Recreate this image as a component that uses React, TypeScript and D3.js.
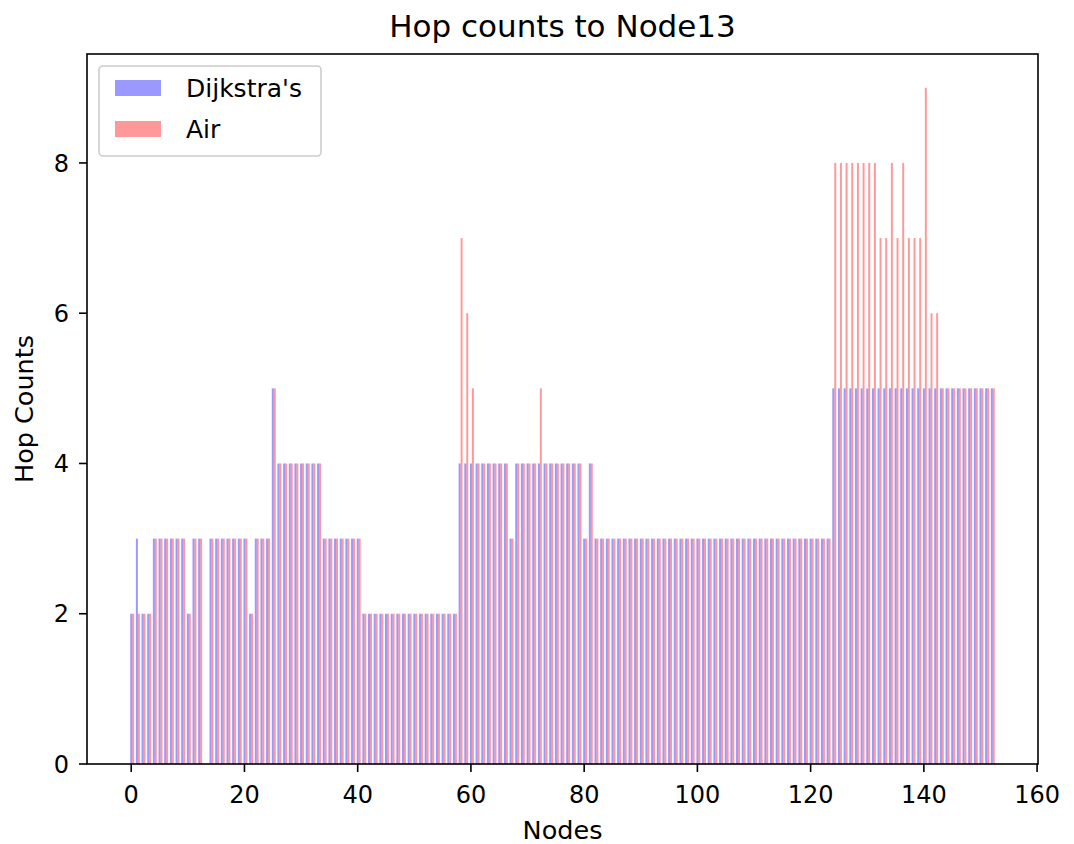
import React from "react";
import * as d3 from "d3";

const title = "Hop counts to Node13";
const xLabel = "Nodes";
const yLabel = "Hop Counts";
const seriesNames = ["Dijkstra's", "Air"];

// hop counts per node (node index 0..152)
const dijkstra = [
  2, 3, 2, 2, 3, 3, 3, 3, 3, 3,
  2, 3, 3, 0, 3, 3, 3, 3, 3, 3,
  3, 2, 3, 3, 3, 5, 4, 4, 4, 4,
  4, 4, 4, 4, 3, 3, 3, 3, 3, 3,
  3, 2, 2, 2, 2, 2, 2, 2, 2, 2,
  2, 2, 2, 2, 2, 2, 2, 2, 4, 4,
  4, 4, 4, 4, 4, 4, 4, 3, 4, 4,
  4, 4, 4, 4, 4, 4, 4, 4, 4, 4,
  3, 4, 3, 3, 3, 3, 3, 3, 3, 3,
  3, 3, 3, 3, 3, 3, 3, 3, 3, 3,
  3, 3, 3, 3, 3, 3, 3, 3, 3, 3,
  3, 3, 3, 3, 3, 3, 3, 3, 3, 3,
  3, 3, 3, 3, 5, 5, 5, 5, 5, 5,
  5, 5, 5, 5, 5, 5, 5, 5, 5, 5,
  5, 5, 5, 5, 5, 5, 5, 5, 5, 5,
  5, 5, 5,
];

const air = [
  2, 2, 2, 2, 3, 3, 3, 3, 3, 3,
  2, 3, 3, 0, 3, 3, 3, 3, 3, 3,
  3, 2, 3, 3, 3, 5, 4, 4, 4, 4,
  4, 4, 4, 4, 3, 3, 3, 3, 3, 3,
  3, 2, 2, 2, 2, 2, 2, 2, 2, 2,
  2, 2, 2, 2, 2, 2, 2, 2, 7, 6,
  5, 4, 4, 4, 4, 4, 4, 3, 4, 4,
  4, 4, 5, 4, 4, 4, 4, 4, 4, 4,
  3, 4, 3, 3, 3, 3, 3, 3, 3, 3,
  3, 3, 3, 3, 3, 3, 3, 3, 3, 3,
  3, 3, 3, 3, 3, 3, 3, 3, 3, 3,
  3, 3, 3, 3, 3, 3, 3, 3, 3, 3,
  3, 3, 3, 3, 8, 8, 8, 8, 8, 8,
  8, 8, 7, 7, 8, 7, 8, 7, 7, 7,
  9, 6, 6, 5, 5, 5, 5, 5, 5, 5,
  5, 5, 5,
];

const xTicks = [0, 20, 40, 60, 80, 100, 120, 140, 160];
const yTicks = [0, 2, 4, 6, 8];

const W = 1074;
const H = 844;
const left = 87;
const right = 1038;
const top = 54;
const bottom = 764;
const barW = 0.35;
const FONT = "DejaVu Sans, sans-serif";

export default function App() {
  const nodes = d3.range(dijkstra.length);
  const x = d3.scaleLinear().domain([-7.81, 160.16]).range([left, right]);
  const y = d3.scaleLinear().domain([0, 9.45]).range([bottom, top]);
  const bw = x(barW) - x(0);
  const blue = "#0000ff";
  const red = "#ff0000";

  return (
    <svg
      width={W}
      height={H}
      style={{ position: "absolute", left: 0, top: 0, background: "#fff" }}
      fontFamily={FONT}
    >
      <rect x={0} y={0} width={W} height={H} fill="#fff" />
      <g>
        {nodes.map((i) => (
          <rect
            key={"d" + i}
            x={x(i - barW / 2)}
            y={y(dijkstra[i])}
            width={bw}
            height={y(0) - y(dijkstra[i])}
            fill={blue}
            fillOpacity={0.4}
          />
        ))}
        {nodes.map((i) => (
          <rect
            key={"a" + i}
            x={x(i + barW / 2)}
            y={y(air[i])}
            width={bw}
            height={y(0) - y(air[i])}
            fill={red}
            fillOpacity={0.4}
          />
        ))}
      </g>
      {/* spines */}
      <rect
        x={left}
        y={top}
        width={right - left}
        height={bottom - top}
        fill="none"
        stroke="#000"
        strokeWidth={1.6}
      />
      {/* x ticks */}
      {xTicks.map((t) => (
        <g key={"xt" + t}>
          <line x1={x(t)} x2={x(t)} y1={bottom} y2={bottom + 8} stroke="#000" strokeWidth={1.6} />
          <text x={x(t)} y={803} textAnchor="middle" fontSize={24} fill="#000">
            {t}
          </text>
        </g>
      ))}
      {/* y ticks */}
      {yTicks.map((t) => (
        <g key={"yt" + t}>
          <line x1={left - 8} x2={left} y1={y(t)} y2={y(t)} stroke="#000" strokeWidth={1.6} />
          <text x={69} y={y(t)} dy="0.36em" textAnchor="end" fontSize={24} fill="#000">
            {t}
          </text>
        </g>
      ))}
      <text x={(left + right) / 2} y={839} textAnchor="middle" fontSize={25.5} fill="#000">
        {xLabel}
      </text>
      <text
        transform={`translate(33, ${(top + bottom) / 2}) rotate(-90)`}
        textAnchor="middle"
        fontSize={25.5}
        fill="#000"
      >
        {yLabel}
      </text>
      <text x={(left + right) / 2} y={37} textAnchor="middle" fontSize={31} fill="#000">
        {title}
      </text>
      {/* legend */}
      <g>
        <rect x={99} y={66} width={222} height={90} rx={4} fill="#fff" fillOpacity={0.8} stroke="#ccc" strokeWidth={1.6} />
        {seriesNames.map((name, k) => (
          <g key={name}>
            <rect x={115} y={80 + k * 41} width={46} height={16} fill={k === 0 ? blue : red} fillOpacity={0.4} />
            <text x={186} y={88 + k * 41} dy="0.36em" fontSize={25} fill="#000">
              {name}
            </text>
          </g>
        ))}
      </g>
    </svg>
  );
}
